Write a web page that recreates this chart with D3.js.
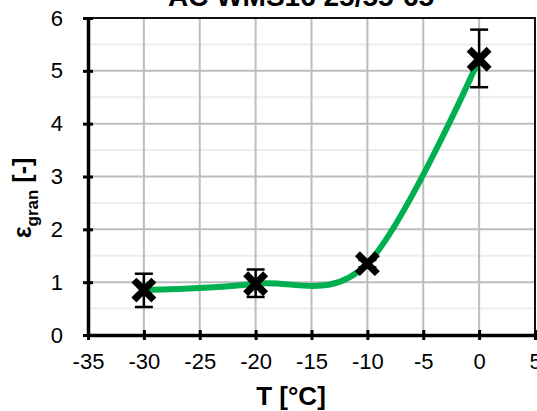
<!DOCTYPE html>
<html>
<head>
<meta charset="utf-8">
<script src="https://cdn.jsdelivr.net/npm/d3@7"></script>
<style>
  body { margin: 0; background: #fff; }
  text { font-family: "Liberation Sans", Arial, sans-serif; }
</style>
</head>
<body>
<div id="vis"></div>
<script>
// data
let temps = [-30, -20, -10, 0];
let eps = [0.85, 0.97, 1.35, 5.22];
let errLow = [0.53, 0.72, 1.28, 4.69];
let errHigh = [1.16, 1.24, 1.42, 5.78];
let xTicks = [-35, -30, -25, -20, -15, -10, -5, 0, 5];
let yTicks = [0, 1, 2, 3, 4, 5, 6];
let title = "AC WMS16 25/55-65";

let W = 537, H = 411;
let margin = { top: 18, left: 88, right: 2, bottom: 76 };

let svg = d3.select('#vis')
  .append('svg')
  .attr('width', W)
  .attr('height', H)
  .style('background-color', '#fff');

let xScale = d3.scaleLinear().domain([-35, 5]).range([margin.left, W - margin.right]);
let yScale = d3.scaleLinear().domain([0, 6]).range([H - margin.bottom, margin.top]);

// minor horizontal gridlines
let minor = d3.range(0.5, 6, 1);
svg.append("g").selectAll("line")
  .data(minor).enter().append("line")
  .attr("x1", xScale(-35)).attr("x2", xScale(5))
  .attr("y1", d => yScale(d)).attr("y2", d => yScale(d))
  .attr("stroke", "#ededed").attr("stroke-width", 2);

// major gridlines
svg.append("g").selectAll("line")
  .data(yTicks.slice(1, -1)).enter().append("line")
  .attr("x1", xScale(-35)).attr("x2", xScale(5))
  .attr("y1", d => yScale(d)).attr("y2", d => yScale(d))
  .attr("stroke", "#bdbdbd").attr("stroke-width", 2);
svg.append("g").selectAll("line")
  .data(xTicks.slice(1, -1)).enter().append("line")
  .attr("y1", yScale(0)).attr("y2", yScale(6))
  .attr("x1", d => xScale(d)).attr("x2", d => xScale(d))
  .attr("stroke", "#bdbdbd").attr("stroke-width", 2);

// top and right border
svg.append("path")
  .attr("d", "M" + xScale(-35) + "," + yScale(6) + "H" + xScale(5) + "V" + yScale(0))
  .attr("fill", "none").attr("stroke", "#111").attr("stroke-width", 2);

// axes
let fmt = d => String(d);
let xAxis = svg.append("g")
  .attr("transform", "translate(0," + yScale(0) + ")")
  .call(d3.axisBottom(xScale).tickValues(xTicks).tickFormat(fmt).tickSize(5).tickSizeOuter(0).tickPadding(13));
let yAxis = svg.append("g")
  .attr("transform", "translate(" + xScale(-35) + ",0)")
  .call(d3.axisLeft(yScale).tickValues(yTicks).tickFormat(fmt).tickSize(5).tickSizeOuter(0).tickPadding(20));

[xAxis, yAxis].forEach(function(ax) {
  ax.select(".domain").attr("stroke", "#000").attr("stroke-width", 3.5);
  ax.selectAll(".tick line").attr("stroke", "#000").attr("stroke-width", 3);
  ax.selectAll(".tick text").attr("font-size", 22).attr("fill", "#000")
    .style("font-family", "'Liberation Sans', Arial, sans-serif");
});
// ticks cross the axis line
xAxis.selectAll(".tick line").attr("y1", -5);
yAxis.selectAll(".tick line").attr("x1", 5);

// smooth line
let pts = temps.map((t, i) => [t, eps[i]]);
let line = d3.line()
  .x(d => xScale(d[0]))
  .y(d => yScale(d[1]))
  .curve(d3.curveCardinal.tension(0));
svg.append("path")
  .datum(pts)
  .attr("d", line)
  .attr("fill", "none")
  .attr("stroke", "#00b050")
  .attr("stroke-width", 6);

// error bars
let eb = svg.append("g").selectAll("g")
  .data(temps).enter().append("g");
eb.append("line")
  .attr("x1", d => xScale(d)).attr("x2", d => xScale(d))
  .attr("y1", (d, i) => yScale(errLow[i])).attr("y2", (d, i) => yScale(errHigh[i]))
  .attr("stroke", "#000").attr("stroke-width", 2.5);
eb.append("line")
  .attr("x1", d => xScale(d) - 9).attr("x2", d => xScale(d) + 9)
  .attr("y1", (d, i) => yScale(errLow[i])).attr("y2", (d, i) => yScale(errLow[i]))
  .attr("stroke", "#000").attr("stroke-width", 2.5);
eb.append("line")
  .attr("x1", d => xScale(d) - 9).attr("x2", d => xScale(d) + 9)
  .attr("y1", (d, i) => yScale(errHigh[i])).attr("y2", (d, i) => yScale(errHigh[i]))
  .attr("stroke", "#000").attr("stroke-width", 2.5);

// X markers
svg.append("g").selectAll("path")
  .data(pts).enter().append("path")
  .attr("transform", d => "translate(" + xScale(d[0]) + "," + yScale(d[1]) + ")")
  .attr("d", "M-7.5,-7.5L7.5,7.5M-7.5,7.5L7.5,-7.5")
  .attr("stroke", "#000")
  .attr("stroke-width", 7)
  .attr("stroke-linecap", "square");

// title (mostly cut off by the top edge, as in the original)
svg.append("text")
  .attr("x", 301).attr("y", 6)
  .attr("text-anchor", "middle")
  .attr("font-size", 28).attr("font-weight", "bold")
  .text(title);

// axis labels
svg.append("text")
  .attr("x", 291).attr("y", 405)
  .attr("text-anchor", "middle")
  .attr("font-size", 26).attr("font-weight", "bold")
  .text("T [°C]");

let yl = svg.append("text")
  .attr("transform", "translate(31,198) rotate(-90)")
  .attr("text-anchor", "middle")
  .attr("font-size", 25).attr("font-weight", "bold");
yl.append("tspan").text("ε");
yl.append("tspan").attr("font-size", 17).attr("dy", 7).text("gran");
yl.append("tspan").attr("dy", -7).text(" [-]");
</script>
</body>
</html>
